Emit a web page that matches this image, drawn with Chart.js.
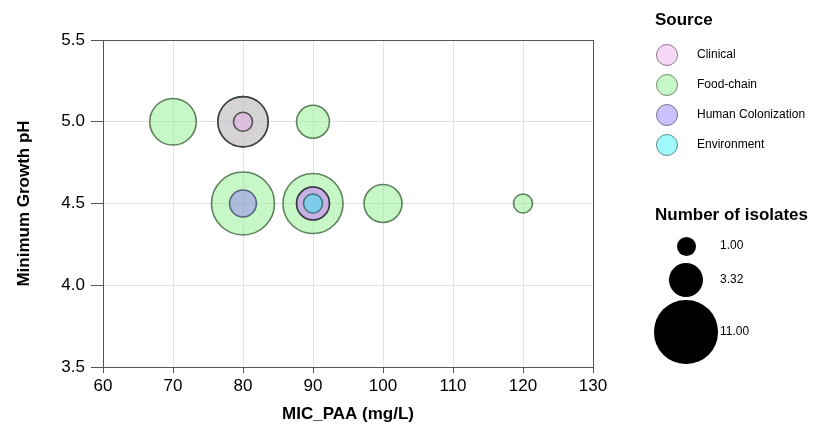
<!DOCTYPE html>
<html>
<head>
<meta charset="utf-8">
<script src="https://cdn.jsdelivr.net/npm/chart.js@4.4.1/dist/chart.umd.min.js"></script>
<style>
  body { margin: 0; background: #fff; font-family: "Liberation Sans", Arial, sans-serif; }
  #wrap { position: relative; width: 813px; height: 434px; }
  #chart { position: absolute; left: 0; top: 0; }
  .legTitle { position: absolute; left: 655px; font-weight: bold; font-size: 17px; color: #000; white-space: nowrap; }
  .legDot { position: absolute; border-radius: 50%; box-sizing: border-box; }
  .legText { position: absolute; font-size: 12px; color: #000; white-space: nowrap; line-height: 14px; }
</style>
</head>
<body>
<div id="wrap">
  <canvas id="chart" width="813" height="434"></canvas>
  <div id="legend"></div>
</div>
<script>
// MIC_PAA (mg/L), minimum growth pH and number of isolates, per source
const sources = ["Clinical", "Food-chain", "Human Colonization", "Environment"];

const foodX = [70, 80, 90, 80, 90, 100, 120];
const foodY = [5.0, 5.0, 5.0, 4.5, 4.5, 4.5, 4.5];
const foodN = [6, 7, 3, 11, 10, 4, 1];

const clinicalX = [80, 80, 90];
const clinicalY = [5.0, 5.0, 4.5];
const clinicalN = [7, 1, 3];

const humanX = [80, 90];
const humanY = [4.5, 4.5];
const humanN = [2, 3];

const envX = [90];
const envY = [4.5];
const envN = [1];

const sizeKeys = [1.00, 3.32, 11.00];
const xTicks = [60, 70, 80, 90, 100, 110, 120, 130];
const yTicks = [3.5, 4.0, 4.5, 5.0, 5.5];

const fills = {
  "Clinical": "rgba(235,160,235,0.4)",
  "Food-chain": "rgba(144,238,144,0.5)",
  "Human Colonization": "rgba(140,120,250,0.45)",
  "Environment": "rgba(30,240,245,0.42)"
};
const lines = {
  "Clinical": "rgba(40,40,40,0.75)",
  "Food-chain": "rgba(60,100,60,0.8)",
  "Human Colonization": "rgba(60,60,100,0.75)",
  "Environment": "rgba(40,90,100,0.75)"
};
const legendLines = {
  "Clinical": "#8a7a8a",
  "Food-chain": "#6f8f6f",
  "Human Colonization": "#77708f",
  "Environment": "#5f8f8f"
};

const radius = n => 9.5 * Math.sqrt(n);

function points(xs, ys, ns) {
  return xs.map((x, i) => ({ x: x, y: ys[i], r: radius(ns[i]), n: ns[i] }));
}

function makeSet(name, xs, ys, ns) {
  return {
    label: name,
    data: points(xs, ys, ns),
    backgroundColor: fills[name],
    borderColor: lines[name],
    borderWidth: 1.6,
    hoverBorderWidth: 1.6
  };
}

// Chart.js paints the last dataset first: food-chain underneath, then human, clinical, environment
const datasets = [
  makeSet("Environment", envX, envY, envN),
  makeSet("Clinical", clinicalX, clinicalY, clinicalN),
  makeSet("Human Colonization", humanX, humanY, humanN),
  makeSet("Food-chain", foodX, foodY, foodN)
];

const frame = {
  id: "frame",
  beforeDatasetsDraw(chart) {
    const a = chart.chartArea;
    const ctx = chart.ctx;
    ctx.save();
    ctx.strokeStyle = "#555";
    ctx.lineWidth = 1;
    ctx.strokeRect(Math.round(a.left) + 0.5, Math.round(a.top) + 0.5, Math.round(a.right - a.left), Math.round(a.bottom - a.top));
    ctx.restore();
  }
};

const tickFont = { family: "'Liberation Sans', Arial, sans-serif", size: 17 };
const titleFont = { family: "'Liberation Sans', Arial, sans-serif", size: 17, weight: "bold" };

new Chart(document.getElementById("chart"), {
  type: "bubble",
  data: { datasets: datasets },
  plugins: [frame],
  options: {
    responsive: false,
    animation: false,
    events: [],
    layout: { padding: { top: 40, right: 220, left: 0, bottom: 0 } },
    plugins: { legend: { display: false }, tooltip: { enabled: false } },
    scales: {
      x: {
        type: "linear",
        min: 60, max: 130,
        afterFit: s => { s.height = 67; },
        afterBuildTicks: s => { s.ticks = xTicks.map(v => ({ value: v })); },
        ticks: { font: tickFont, color: "#000", padding: 3, maxRotation: 0 },
        grid: { color: "#e2e2e2", tickColor: "#555", tickLength: 6 },
        border: { color: "#555" },
        title: { display: true, text: "MIC_PAA (mg/L)", font: titleFont, color: "#000", padding: { top: 0, bottom: 9 } }
      },
      y: {
        type: "linear",
        min: 3.5, max: 5.5,
        afterFit: s => { s.width = 103; },
        afterBuildTicks: s => { s.ticks = yTicks.map(v => ({ value: v })); },
        ticks: { font: tickFont, color: "#000", padding: 6, callback: v => v.toFixed(1) },
        grid: { color: "#e2e2e2", tickColor: "#555", tickLength: 12 },
        border: { color: "#555" },
        title: { display: true, text: "Minimum Growth pH", font: titleFont, color: "#000", padding: { top: 14, bottom: 0 } }
      }
    }
  }
});

// legend on the right: source colours and bubble sizes
const legend = document.getElementById("legend");
function add(cls, css, text) {
  const d = document.createElement("div");
  d.className = cls;
  Object.assign(d.style, css);
  if (text) d.textContent = text;
  legend.appendChild(d);
  return d;
}

add("legTitle", { top: "10px" }, "Source");
sources.forEach((s, i) => {
  const cy = 55 + i * 30;
  add("legDot", {
    left: "656px", top: (cy - 11) + "px", width: "22px", height: "22px",
    background: fills[s], border: "1.6px solid " + legendLines[s]
  });
  add("legText", { left: "697px", top: (cy - 8) + "px" }, s);
});

add("legTitle", { top: "205px" }, "Number of isolates");
const keyY = [246, 280, 332];
sizeKeys.forEach((n, i) => {
  const r = radius(n);
  add("legDot", {
    left: (686 - r) + "px", top: (keyY[i] - r) + "px",
    width: (2 * r) + "px", height: (2 * r) + "px", background: "#000"
  });
  add("legText", { left: "720px", top: (keyY[i] - 8) + "px" }, n.toFixed(2));
});
</script>
</body>
</html>
